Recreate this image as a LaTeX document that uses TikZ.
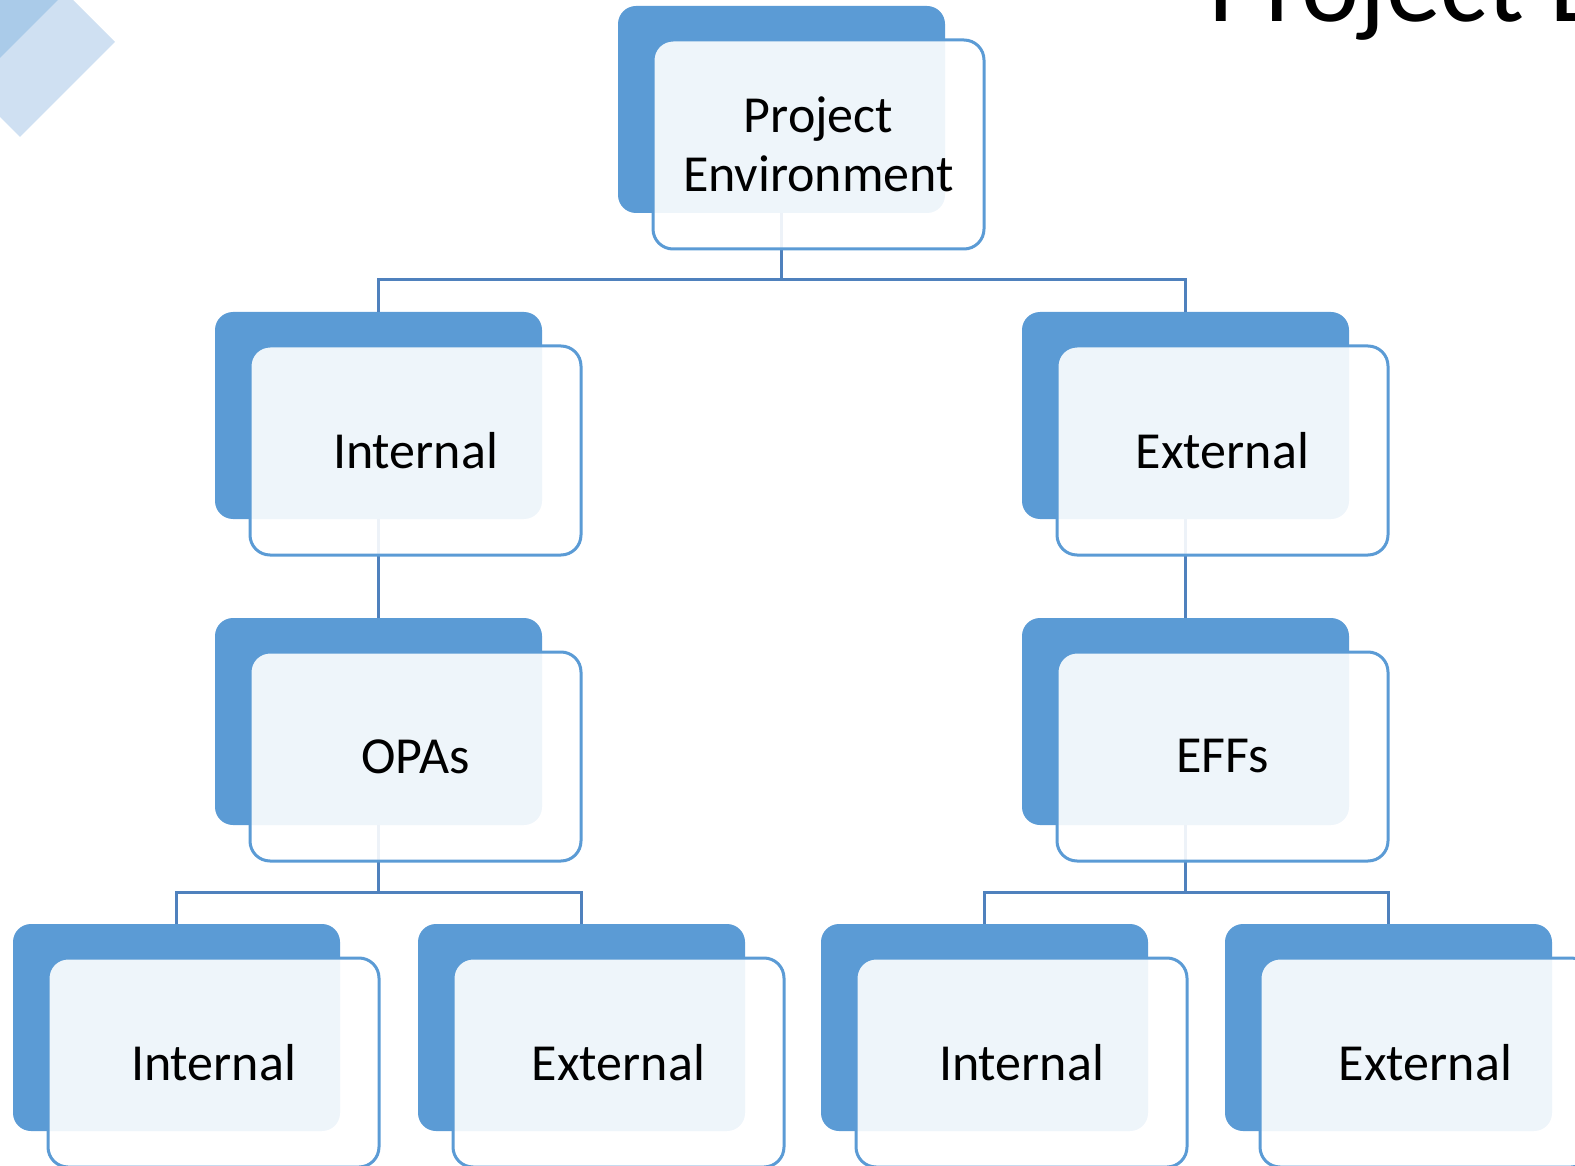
\documentclass[tikz,border=0pt]{standalone}
\usepackage{fontspec}
\setmainfont{Carlito}
\definecolor{accent}{HTML}{5B9BD5}
\definecolor{linkblue}{HTML}{4F81BD}
\definecolor{decolight}{HTML}{CFE0F2}
\definecolor{decodark}{HTML}{AACBE9}
\begin{document}
\begin{tikzpicture}[x=0.5pt,y=-0.5pt,
  backbox/.style={rectangle, fill=accent, rounded corners=9pt,
    minimum width=163.5pt, minimum height=103.5pt,
    inner sep=0pt, outer sep=0pt, anchor=north west},
  frontbox/.style={rectangle, draw=accent, line width=1.5pt,
    fill=white, fill opacity=0.9, text opacity=1, rounded corners=10pt,
    minimum width=165.5pt, minimum height=104.5pt,
    inner sep=0pt, outer sep=0pt, anchor=north west, align=center,
    font=\fontsize{26}{29.5}\selectfont},
  link/.style={draw=linkblue, line width=1.5pt}]

\useasboundingbox (0,0) rectangle (1575,1166);
\clip (0,0) rectangle (1575,1166);

% corner ornament
\fill[decolight] (0,0) -- (73,0) -- (115,42) -- (20,137) -- (0,117) -- cycle;
\fill[decodark] (0,0) -- (58,0) -- (0,58) -- cycle;

% slide title, running past the top and right edges
\node[anchor=base west, inner sep=0pt, font=\fontsize{55}{66}\selectfont]
  (title) at (1208,22) {Project E};

% solid back plates
\node[backbox] (pe)   at (618,6) {};
\node[backbox] (int)  at (215,312) {};
\node[backbox] (ext)  at (1022,312) {};
\node[backbox] (opa)  at (215,618) {};
\node[backbox] (eef)  at (1022,618) {};
\node[backbox] (oint) at (13,924) {};
\node[backbox] (oext) at (418,924) {};
\node[backbox] (eint) at (821,924) {};
\node[backbox] (eext) at (1225,924) {};

% connectors (junctions sit 32 units above the child row)
\coordinate (j1) at (781.5,280);
\coordinate (j2) at (378.5,892);
\coordinate (j3) at (1185.5,892);
\draw[link] (pe.south) -- (j1) -| (int.north);
\draw[link] (j1) -| (ext.north);
\draw[link] (int.south) -- (opa.north);
\draw[link] (ext.south) -- (eef.north);
\draw[link] (opa.south) -- (j2) -| (oint.north);
\draw[link] (j2) -| (oext.north);
\draw[link] (eef.south) -- (j3) -| (eint.north);
\draw[link] (j3) -| (eext.north);

% translucent front cards with labels
\node[frontbox] (pe-f)   at (653,40)  {Project\\Environment};
\node[frontbox] (int-f)  at (250,346) {Internal};
\node[frontbox] (ext-f)  at (1057,346) {External};
\node[frontbox] (opa-f)  at (250,652) {OPAs};
\node[frontbox] (eef-f)  at (1057,652) {EFFs};
\node[frontbox] (oint-f) at (48,958)  {Internal};
\node[frontbox] (oext-f) at (453,958) {External};
\node[frontbox] (eint-f) at (856,958) {Internal};
\node[frontbox] (eext-f) at (1260,958) {External};
\end{tikzpicture}
\end{document}
